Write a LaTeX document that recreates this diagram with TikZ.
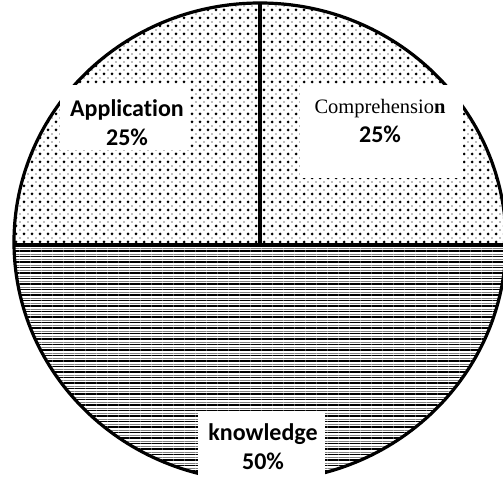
\documentclass[tikz,border=0pt]{standalone}
\usepackage{fontspec}
\setmainfont{Carlito}[Ligatures=NoCommon]
\newfontfamily\timesrm{Liberation Serif}
\usepackage{tikz}
\usetikzlibrary{patterns.meta}

\begin{document}
\begin{tikzpicture}[x=1pt,y=-1pt]
        \tikzstyle{whitebox} = [rectangle, fill=white, inner sep=0pt]
        \tikzstyle{pielabel} = [align=center, inner sep=0pt, font=\fontsize{24}{29}\selectfont\bfseries]
        \tikzstyle{edge} = [line width=3.2pt]

        \useasboundingbox (0,0) rectangle (503,482);
        \clip (0,0) rectangle (503,482);

        \coordinate (C) at (260,242);
        \def\rx{246}
        \def\ry{239}

        % upper half: dots
        \begin{scope}
                \clip (0,0) rectangle (503,245);
                \fill[white] (C) ellipse [x radius=\rx, y radius=\ry];
                \fill[pattern={Dots[distance=8pt, radius=1.5pt]}] (C) ellipse [x radius=\rx, y radius=\ry];
                \fill[pattern={Dots[distance=8pt, radius=0.9pt, xshift=4pt, yshift=4pt]}, pattern color=gray] (C) ellipse [x radius=\rx, y radius=\ry];
        \end{scope}

        % lower half: lines
        \begin{scope}
                \clip (0,245) rectangle (503,482);
                \fill[white] (C) ellipse [x radius=\rx, y radius=\ry];
                \fill[pattern={Lines[angle=0, distance=5.5pt, line width=1.5pt]}] (C) ellipse [x radius=\rx, y radius=\ry];
                \fill[pattern={Lines[angle=0, distance=5.5pt, line width=0.7pt, yshift=2.5pt]}, pattern color=gray] (C) ellipse [x radius=\rx, y radius=\ry];
        \end{scope}

        % dividers
        \begin{scope}
                \clip (C) ellipse [x radius=\rx, y radius=\ry];
                \coordinate (L) at (0,245);
                \coordinate (R) at (503,245);
                \coordinate (T) at (260,0);
                \coordinate (M) at (260,245);
                \draw[edge] (L) -- (R);
                \draw[edge] (T) -- (M);
        \end{scope}
        \draw[edge] (C) ellipse [x radius=\rx, y radius=\ry];

        % labels
        \node[whitebox, minimum width=130pt, minimum height=65pt] (appbox) at (125,117) {};
        \node[whitebox, minimum width=163pt, minimum height=93pt] (combox) at (381.5,131.5) {};
        \node[whitebox, minimum width=127pt, minimum height=75pt] (knobox) at (261.5,450) {};

        \node[pielabel] (app) at (127,123) {Application\\25\%};
        \node[pielabel] (com) at (380,121) {{\timesrm\mdseries\fontsize{20.5}{29}\selectfont Comprehensio\bfseries n}\\25\%};
        \node[pielabel] (kno) at (263,447) {knowledge\\50\%};
\end{tikzpicture}
\end{document}
